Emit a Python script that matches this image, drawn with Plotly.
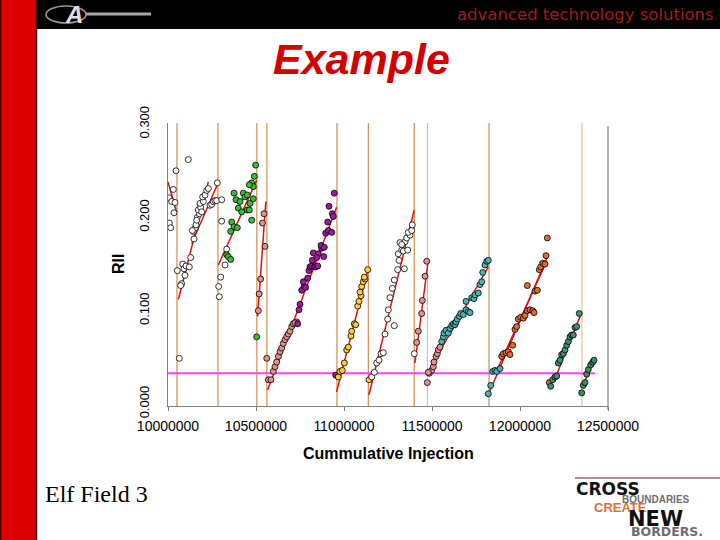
import plotly.graph_objects as go

# ---------------- data ----------------
x_ticks = [10000000, 10500000, 11000000, 11500000, 12000000, 12500000]
x_tick_labels = ["10000000", "10500000", "11000000", "11500000", "12000000", "12500000"]
y_ticks = [0.0, 0.1, 0.2, 0.3]
y_tick_labels = ["0.000", "0.100", "0.200", "0.300"]

vline_x = [10051000, 10284000, 10505000, 10562000, 10960000, 11138000, 11399000, 11474000, 11824000, 12352000]
vline_light = [False, False, False, False, False, False, False, True, False, True]

cutoff_x = [10000000, 12426000]
cutoff_y = [0.033, 0.033]

fit_x0 = [10000000, 10059000, 10135000, 10286000, 10509000, 10566000, 10958000, 11142000, 11403000, 11473000, 11820000, 11868000, 12205000, 12356000]
fit_y0 = [0.238, 0.112, 0.172, 0.149, 0.094, 0.015, 0.013, 0.010, 0.044, 0.033, 0.010, 0.036, 0.030, 0.019]
fit_x1 = [10050000, 10229000, 10280000, 10504000, 10556000, 10958000, 11138000, 11399000, 11476000, 11820000, 12161000, 12152000, 12350000, 12420000]
fit_y1 = [0.205, 0.238, 0.235, 0.240, 0.217, 0.211, 0.145, 0.208, 0.150, 0.147, 0.160, 0.153, 0.098, 0.047]

seg1_white_x = [10030100, 10005700, 10021000, 10039800, 10034100, 10007400, 10015300, 10045500]
seg1_white_y = [0.230, 0.221, 0.217, 0.216, 0.205, 0.194, 0.189, 0.250]

seg2_white_x = [10115500, 10052900, 10083500, 10091000, 10102300, 10121000, 10096600, 10077800, 10072000,
                10129000, 10147700, 10143900, 10155200, 10138100, 10166500, 10177800, 10172200, 10185600,
                10181800, 10200600, 10197000, 10210200, 10219900, 10229000, 10238600, 10248300, 10257400,
                10267000, 10276700, 10280100, 10159100, 10163000, 10191500, 10064300]
seg2_white_y = [0.262, 0.143, 0.150, 0.145, 0.148, 0.147, 0.138, 0.129, 0.127,
                0.157, 0.177, 0.185, 0.189, 0.186, 0.200, 0.204, 0.208, 0.211,
                0.215, 0.217, 0.222, 0.224, 0.229, 0.231, 0.213, 0.214, 0.217,
                0.218, 0.218, 0.237, 0.192, 0.197, 0.206, 0.049]

seg3_white_x = [10305000, 10305000, 10333500, 10323900, 10299400, 10288000, 10291500]
seg3_white_y = [0.219, 0.196, 0.166, 0.149, 0.136, 0.126, 0.115]

seg3_green_x = [10375000, 10427900, 10386400, 10409100, 10437500, 10450600, 10475600, 10498300, 10490400,
                10466000, 10484700, 10399500, 10418800, 10450600, 10462000, 10475600, 10362000, 10375000,
                10393800, 10356300, 10333500, 10342600, 10356300, 10484700, 10462000, 10504000]
seg3_green_y = [0.226, 0.226, 0.219, 0.217, 0.222, 0.224, 0.237, 0.256, 0.244,
                0.215, 0.220, 0.210, 0.206, 0.208, 0.208, 0.197, 0.195, 0.190,
                0.189, 0.185, 0.160, 0.158, 0.155, 0.233, 0.235, 0.072]

seg4_pink_x = [10545500, 10537000, 10551000, 10526700, 10518200, 10513000]
seg4_pink_y = [0.204, 0.194, 0.169, 0.134, 0.118, 0.100]

seg5_pink_x = [10561000, 10570000, 10585000, 10598000, 10608000, 10617600, 10627000, 10636400, 10646000,
               10655000, 10664800, 10674500, 10683500, 10693200, 10703000, 10712000, 10731300, 10721600]
seg5_pink_y = [0.049, 0.026, 0.026, 0.035, 0.040, 0.045, 0.051, 0.056, 0.060,
               0.065, 0.069, 0.072, 0.075, 0.078, 0.083, 0.086, 0.088, 0.087]

seg5_purple_x = [10737000, 10744300, 10750000, 10759700, 10774500, 10782400, 10768800, 10793800, 10801100,
                 10806800, 10816500, 10831300, 10839300, 10850600, 10820000, 10825600, 10854000, 10845000,
                 10873300, 10869300, 10888100, 10884700, 10896000, 10910800, 10930100, 10907400, 10933500,
                 10939200, 10914800, 10944900, 10953000]
seg5_purple_y = [0.086, 0.101, 0.107, 0.122, 0.126, 0.125, 0.131, 0.135, 0.143,
                 0.147, 0.148, 0.147, 0.147, 0.148, 0.154, 0.162, 0.161, 0.157,
                 0.167, 0.170, 0.168, 0.158, 0.183, 0.186, 0.184, 0.195, 0.204,
                 0.201, 0.212, 0.226, 0.031]

seg6_yellow_x = [10967600, 10977000, 10990400, 11001700, 11015400, 11024500, 11039800, 11043800, 11058600,
                 11066500, 11077900, 11085300, 11096700, 11091000, 11100600, 11109700, 11119400, 11115400,
                 11134700, 11142000]
seg6_yellow_y = [0.029, 0.035, 0.036, 0.044, 0.058, 0.061, 0.073, 0.078, 0.086,
                 0.085, 0.105, 0.110, 0.116, 0.120, 0.126, 0.131, 0.134, 0.136,
                 0.144, 0.026]

seg7_white_x = [11157400, 11172200, 11185800, 11198900, 11210300, 11223300, 11233000, 11248300, 11251700,
                11261400, 11274500, 11285800, 11285800, 11305100, 11312500, 11342600, 11308500, 11327900,
                11337000, 11362000, 11318200, 11346600, 11356300, 11375000, 11365400, 11384700, 11388100,
                11327900, 11399500]
seg7_white_y = [0.029, 0.034, 0.044, 0.047, 0.054, 0.055, 0.075, 0.091, 0.101,
                0.114, 0.124, 0.084, 0.133, 0.144, 0.154, 0.145, 0.161, 0.165,
                0.164, 0.165, 0.173, 0.174, 0.178, 0.181, 0.184, 0.186, 0.192,
                0.171, 0.054]

seg8_pink_x = [11413100, 11422200, 11441500, 11445000, 11460300, 11470000]
seg8_pink_y = [0.066, 0.078, 0.097, 0.111, 0.137, 0.153]

seg9_pink_x = [11473300, 11484700, 11498300, 11507400, 11511400, 11522800, 11530200, 11535800, 11545500, 11479000]
seg9_pink_y = [0.023, 0.033, 0.036, 0.040, 0.045, 0.051, 0.054, 0.058, 0.061, 0.034]

seg9_teal_x = [11555200, 11564300, 11568200, 11579600, 11592600, 11602300, 11612000, 11621100, 11630700,
               11636400, 11643800, 11655200, 11663100, 11677900, 11693200, 11706300, 11715900, 11693200,
               11725600, 11738700, 11744400, 11763100, 11772800, 11782500, 11788200, 11801200, 11810900,
               11820000]
seg9_teal_y = [0.067, 0.072, 0.076, 0.079, 0.076, 0.081, 0.084, 0.086, 0.085,
               0.088, 0.091, 0.094, 0.097, 0.096, 0.101, 0.099, 0.098, 0.110,
               0.114, 0.113, 0.117, 0.119, 0.128, 0.131, 0.141, 0.149, 0.153,
               0.154]

seg10_teal_x = [11820000, 11833600, 11845000, 11858000, 11867700, 11886400]
seg10_teal_y = [0.011, 0.020, 0.035, 0.036, 0.035, 0.038]

seg10_orange_x = [11896000, 11905100, 11920500, 11933500, 11943200, 11958500, 11971600, 11981300, 11990300,
                  12004000, 12018700, 12028500, 12041500, 12056900, 12072300, 12079700, 12041500, 12085300,
                  12098400, 12109700, 12117700, 12129000, 12142100, 12147800, 12155100, 12166500]
seg10_orange_y = [0.051, 0.054, 0.055, 0.056, 0.053, 0.063, 0.080, 0.083, 0.091,
                  0.093, 0.092, 0.095, 0.100, 0.101, 0.100, 0.098, 0.127, 0.121,
                  0.122, 0.144, 0.147, 0.151, 0.150, 0.159, 0.178, 0.023]

seg11_dkteal_x = [12174400, 12185800, 12198900, 12208500, 12217700, 12227300, 12237000, 12246000, 12255800,
                  12265400, 12274500, 12284200, 12293800, 12302900, 12312600, 12322300, 12337000]
seg11_dkteal_y = [0.019, 0.026, 0.029, 0.030, 0.044, 0.047, 0.053, 0.054, 0.058,
                  0.063, 0.067, 0.072, 0.074, 0.074, 0.082, 0.083, 0.097]

seg12_green_x = [12350600, 12359700, 12369400, 12379000, 12388100, 12401800, 12413200, 12420500]
seg12_green_y = [0.012, 0.020, 0.023, 0.032, 0.037, 0.042, 0.045, 0.047]

point_groups = [
    (seg1_white_x, seg1_white_y, "#ffffff"),
    (seg2_white_x, seg2_white_y, "#ffffff"),
    (seg3_white_x, seg3_white_y, "#ffffff"),
    (seg3_green_x, seg3_green_y, "#36bf36"),
    (seg4_pink_x, seg4_pink_y, "#e49090"),
    (seg5_pink_x, seg5_pink_y, "#e49090"),
    (seg5_purple_x, seg5_purple_y, "#a0189f"),
    (seg6_yellow_x, seg6_yellow_y, "#ffcc33"),
    (seg7_white_x, seg7_white_y, "#ffffff"),
    (seg8_pink_x, seg8_pink_y, "#e49090"),
    (seg9_pink_x, seg9_pink_y, "#e49090"),
    (seg9_teal_x, seg9_teal_y, "#48b4b4"),
    (seg10_teal_x, seg10_teal_y, "#48b4b4"),
    (seg10_orange_x, seg10_orange_y, "#e06a36"),
    (seg11_dkteal_x, seg11_dkteal_y, "#3f8f7a"),
    (seg12_green_x, seg12_green_y, "#3d8a64"),
]

# ---------------- layout helpers (pixel -> paper) ----------------
L, R, T, B = 168, 608, 123, 406
W, H = 720, 540


def PX(px):
    return (px - L) / (R - L)


def PY(py):
    return (B - py) / (B - T)


fig = go.Figure()

# magenta cutoff line
fig.add_trace(go.Scatter(x=cutoff_x, y=cutoff_y, mode="lines",
                         line=dict(color="#ff40ff", width=2), hoverinfo="skip"))

# red fits
for i in range(len(fit_x0)):
    fig.add_trace(go.Scatter(x=[fit_x0[i], fit_x1[i]], y=[fit_y0[i], fit_y1[i]], mode="lines",
                             line=dict(color="#e01010", width=1.5), hoverinfo="skip"))

# points
for gx, gy, col in point_groups:
    fig.add_trace(go.Scatter(x=gx, y=gy, mode="markers",
                             marker=dict(size=6, color=col, line=dict(color="black", width=0.8))))

shapes = []
for vx, light in zip(vline_x, vline_light):
    shapes.append(dict(type="line", xref="x", yref="paper", x0=vx, x1=vx, y0=0, y1=1,
                       line=dict(color="#dfb48a" if light else "#c8762e", width=1), layer="below"))

# right border line of chart
shapes.append(dict(type="line", xref="paper", yref="paper", x0=1, x1=1, y0=PY(410), y1=PY(126),
                   line=dict(color="#808080", width=1.2)))

# slide decoration
shapes += [
    dict(type="rect", xref="paper", yref="paper", x0=PX(36), x1=PX(721), y0=PY(29), y1=PY(-1),
         fillcolor="black", line=dict(width=0), layer="above"),
    dict(type="rect", xref="paper", yref="paper", x0=PX(-1), x1=PX(36), y0=PY(541), y1=PY(-1),
         fillcolor="#dd0000", line=dict(width=0), layer="above"),
    dict(type="line", xref="paper", yref="paper", x0=PX(36.5), x1=PX(36.5), y0=PY(541), y1=PY(-1),
         line=dict(color="#300000", width=1.5)),
    dict(type="line", xref="paper", yref="paper", x0=PX(0.5), x1=PX(0.5), y0=PY(541), y1=PY(-1),
         line=dict(color="#500000", width=1.5)),
    # logo swoosh
    dict(type="line", xref="paper", yref="paper", x0=PX(86), x1=PX(151), y0=PY(14), y1=PY(14),
         line=dict(color="#a8a8a8", width=3)),
    dict(type="circle", xref="paper", yref="paper", x0=PX(46), x1=PX(86), y0=PY(23), y1=PY(6),
         line=dict(color="#9a9a9a", width=1.5)),
    # bottom-right logo rule
    dict(type="line", xref="paper", yref="paper", x0=PX(575), x1=PX(720), y0=PY(478), y1=PY(478),
         line=dict(color="#7a2020", width=1)),
]

annotations = []


def ann(text, px, py, size, color, xanchor="center", family="Liberation Sans", angle=0):
    annotations.append(dict(text=text, xref="paper", yref="paper", x=PX(px), y=PY(py),
                            xanchor=xanchor, yanchor="middle", showarrow=False, textangle=angle,
                            borderpad=0,
                            font=dict(size=size, color=color, family=family)))


ann("<b><i>Example</i></b>", 361, 59, 43, "#d40000")
ann("Elf Field 3", 44, 494, 24, "black", xanchor="left", family="Liberation Serif")
ann("advanced technology solutions", 715, 15, 16.5, "#a01c1c", xanchor="right", family="DejaVu Sans")
ann("<b><i>A</i></b>", 74, 15, 24, "#e6dede", family="Liberation Sans")
ann("<b>RII</b>", 118, 264, 16, "black", angle=-90)
ann("<b>Cummulative Injection</b>", 388, 453, 16, "black")
# bottom-right logo
ann("<b>CROSS</b>", 575, 489, 17, "#111111", xanchor="left", family="DejaVu Sans")
ann("<b>BOUNDARIES</b>", 621, 499, 10, "#6e6e6e", xanchor="left")
ann("<b>CREATE</b>", 593, 508, 13, "#e07030", xanchor="left")
ann("<b>NEW</b>", 627, 519, 21, "#111111", xanchor="left", family="DejaVu Sans")
ann("<b>BORDERS.</b>", 630, 531, 12.5, "#6e6e6e", xanchor="left", family="DejaVu Sans")

x_range = [10000000, 12500000]
y_range = [-0.0021, 0.3012]

fig.update_layout(
    width=W, height=H,
    margin=dict(l=L, r=W - R, t=T, b=H - B, pad=0),
    paper_bgcolor="white", plot_bgcolor="white",
    showlegend=False,
    shapes=shapes, annotations=annotations,
    xaxis=dict(range=x_range, tickvals=x_ticks, ticktext=x_tick_labels,
               showgrid=False, zeroline=False, showline=True, linecolor="#808080", linewidth=1.2,
               ticks="outside", ticklen=4, tickcolor="#808080", ticklabelstandoff=3,
               tickfont=dict(family="Liberation Sans", size=14, color="black")),
    yaxis=dict(range=y_range, tickvals=y_ticks, ticktext=y_tick_labels, tickangle=-90,
               showgrid=False, zeroline=False, showline=True, linecolor="#808080", linewidth=1.2,
               ticks="", ticklabelstandoff=13,
               tickfont=dict(family="Liberation Sans", size=13, color="black")),
)

fig.write_html("out.html", config={"displayModeBar": False},
               post_script="document.body.style.margin='0';document.body.style.overflow='hidden';")
